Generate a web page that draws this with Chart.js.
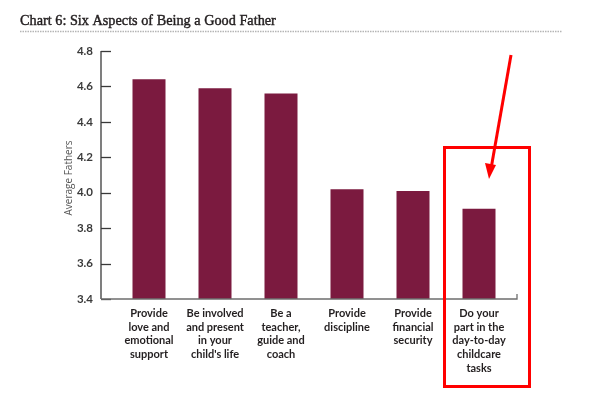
<!DOCTYPE html>
<html>
<head>
<meta charset="utf-8">
<script src="https://cdn.jsdelivr.net/npm/chart.js@4/dist/chart.umd.min.js"></script>
<style>
  html, body { margin: 0; padding: 0; background: #fff; }
  #wrap { width: 595px; height: 399px; position: relative; }
</style>
</head>
<body>
<div id="wrap"><canvas id="c" width="595" height="399"></canvas></div>
<script>
const chartTitle = "Chart 6: Six Aspects of Being a Good Father";
const yAxisTitle = "Average Fathers";
const categories = [
  ["Provide", "love and", "emotional", "support"],
  ["Be involved", "and present", "in your", "child's life"],
  ["Be a", "teacher,", "guide and", "coach"],
  ["Provide", "discipline"],
  ["Provide", "financial", "security"],
  ["Do your", "part in the", "day-to-day", "childcare", "tasks"]
];
const averageFathers = [4.64, 4.59, 4.56, 4.02, 4.01, 3.91];
const yTicks = [3.4, 3.6, 3.8, 4.0, 4.2, 4.4, 4.6, 4.8];

const decor = {
  id: 'decor',
  afterDraw(chart) {
    const ctx = chart.ctx;
    const y = chart.scales.y;
    ctx.save();
    // title
    ctx.fillStyle = '#231f20';
    ctx.strokeStyle = '#231f20';
    ctx.lineWidth = 0.45;
    ctx.font = '15.5px "Liberation Serif", "DejaVu Serif", serif';
    ctx.textBaseline = 'alphabetic';
    ctx.textAlign = 'left';
    ctx.save();
    ctx.translate(20, 25);
    ctx.scale(0.92, 1);
    ctx.fillText(chartTitle, 0, 0);
    ctx.strokeText(chartTitle, 0, 0);
    ctx.restore();
    // dotted rule
    ctx.strokeStyle = '#b5b5b5';
    ctx.lineWidth = 1.5;
    ctx.setLineDash([1.5, 1]);
    ctx.beginPath(); ctx.moveTo(20, 31.5); ctx.lineTo(562, 31.5); ctx.stroke();
    ctx.setLineDash([]);
    // axes
    const axX = 101, top = y.getPixelForValue(4.8), bot = y.getPixelForValue(3.4);
    ctx.strokeStyle = '#3a3a3a';
    ctx.lineWidth = 1.3;
    ctx.beginPath(); ctx.moveTo(axX, top); ctx.lineTo(axX, bot); ctx.stroke();
    yTicks.forEach(v => {
      const py = Math.round(y.getPixelForValue(v)) + 0.5;
      ctx.beginPath(); ctx.moveTo(axX, py); ctx.lineTo(axX + 10, py); ctx.stroke();
    });
    ctx.strokeStyle = '#6e6e6e';
    ctx.beginPath(); ctx.moveTo(axX, bot); ctx.lineTo(517, bot); ctx.lineTo(517, bot - 5); ctx.stroke();
    // y-axis title
    ctx.fillStyle = '#555';
    ctx.font = '10px "Open Sans", sans-serif';
    ctx.textAlign = 'center';
    ctx.textBaseline = 'middle';
    ctx.translate(69, 178);
    ctx.rotate(-Math.PI / 2);
    ctx.fillText(yAxisTitle, 0, 0);
    ctx.restore();
    // red annotation
    ctx.save();
    ctx.strokeStyle = '#ff0000';
    ctx.fillStyle = '#ff0000';
    ctx.lineWidth = 3;
    ctx.strokeRect(444.5, 147.5, 85, 239);
    ctx.beginPath(); ctx.moveTo(511, 55); ctx.lineTo(491.5, 166); ctx.stroke();
    ctx.beginPath();
    ctx.moveTo(489, 179);
    ctx.lineTo(485, 163);
    ctx.lineTo(496, 165);
    ctx.closePath(); ctx.fill();
    ctx.restore();
  }
};

new Chart(document.getElementById('c'), {
  type: 'bar',
  data: {
    labels: categories,
    datasets: [{
      data: averageFathers,
      backgroundColor: '#7b1a3f',
      borderWidth: 0,
      barPercentage: 0.5,
      categoryPercentage: 1.0
    }]
  },
  options: {
    responsive: false,
    animation: false,
    layout: { padding: { top: 51, right: 83, left: 0, bottom: 0 } },
    plugins: { legend: { display: false }, tooltip: { enabled: false }, title: { display: false } },
    scales: {
      x: {
        grid: { display: false, drawTicks: false },
        border: { display: false },
        ticks: {
          color: '#231f20',
          font: { family: 'Lato, "Open Sans", sans-serif', size: 11, weight: 'bold', lineHeight: 1.27 },
          padding: 7,
          maxRotation: 0, autoSkip: false
        },
        afterFit(s) { s.height = 100; }
      },
      y: {
        min: 3.4, max: 4.8,
        grid: { display: false, drawTicks: false },
        border: { display: false },
        afterBuildTicks(s) { s.ticks = yTicks.map(v => ({ value: v })); },
        ticks: {
          color: '#3a3a3a',
          font: { family: 'Lato, "Open Sans", sans-serif', size: 11.5, weight: 'bold' },
          padding: 23,
          callback: v => Number(v).toFixed(1)
        },
        afterFit(s) { s.width = 116; }
      }
    }
  },
  plugins: [decor]
});
</script>
</body>
</html>
